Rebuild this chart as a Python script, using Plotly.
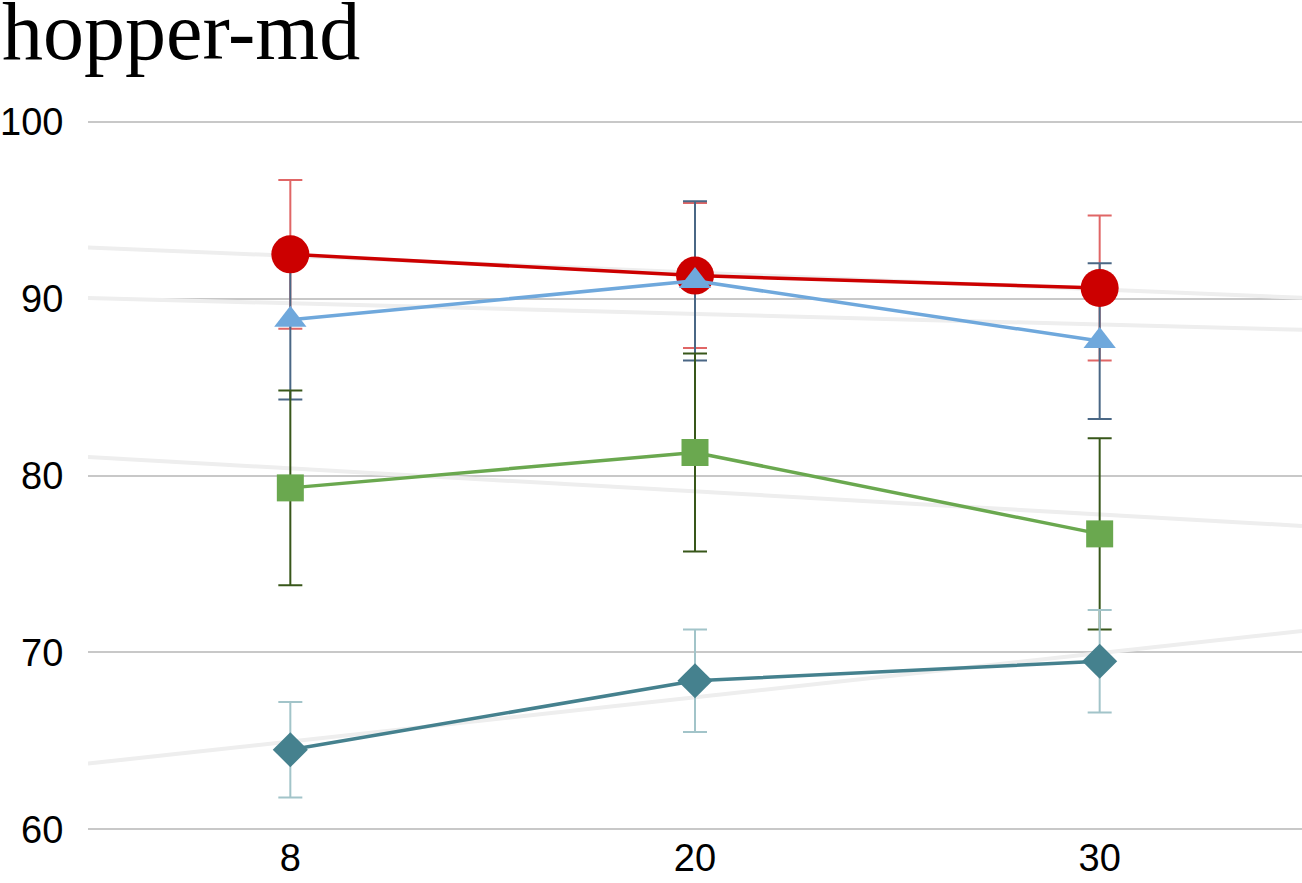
import numpy as np
import plotly.graph_objects as go

categories = ["8", "20", "30"]
series_names = ["red", "blue", "green", "teal"]
red_vals = [92.5, 91.3, 90.6]
red_err = [4.2, 4.1, 4.1]
blue_vals = [88.8, 91.0, 87.6]
blue_err = [4.5, 4.5, 4.4]
green_vals = [79.3, 81.3, 76.7]
green_err = [5.5, 5.6, 5.4]
teal_vals = [64.5, 68.4, 69.5]
teal_err = [2.7, 2.9, 2.9]
y_ticks = [60, 70, 80, 90, 100]

x_idx = list(range(len(categories)))

series = [
    (red_vals, red_err, "#cc0000", "#cc0000", "#e06666", "circle", 38),
    (blue_vals, blue_err, "#6fa8dc", "#6fa8dc", "#4a6785", "triangle-up", 28),
    (green_vals, green_err, "#6aa84f", "#6aa84f", "#38571a", "square", 27),
    (teal_vals, teal_err, "#45818e", "#45818e", "#a2c4c9", "diamond", 27),
]

W, H = 1302, 883
PAD = 0.15                      # small range padding so edge gridlines show
PXU = (829 - 122) / 40.0        # pixels per y unit
ML, MR = 88, 0
MT = 122 - PAD * PXU
MB = 54 - PAD * PXU
PW, PH = W - ML - MR, H - MT - MB

fig = go.Figure()

# trend lines (linear fit over category index), drawn first
xr = np.array([-0.5, 2.5])
for vals, *_ in series:
    k, b = np.polyfit(x_idx, vals, 1)
    fig.add_trace(go.Scatter(x=xr, y=k * xr + b, mode="lines",
                             line=dict(color="#eeeeee", width=4),
                             hoverinfo="skip", showlegend=False))

# error bars underneath all markers
for (vals, err, lc, mc, ec, sym, sz), name in zip(series, series_names):
    fig.add_trace(go.Scatter(
        x=x_idx, y=vals, mode="markers", name=name + " err",
        marker=dict(size=1, opacity=0),
        error_y=dict(type="data", array=err, visible=True, color=ec,
                     thickness=2, width=12),
        hoverinfo="skip", showlegend=False,
    ))

for (vals, err, lc, mc, ec, sym, sz), name in zip(series, series_names):
    fig.add_trace(go.Scatter(
        x=x_idx, y=vals, mode="lines+markers", name=name,
        line=dict(color=lc, width=3.5),
        marker=dict(symbol=sym, size=sz, color=mc, line=dict(width=0)),
        showlegend=False,
    ))

fig.add_annotation(text="hopper-md", xref="paper", yref="paper",
                   x=(0 - ML) / PW, y=1 + (MT + 16) / PH,
                   xanchor="left", yanchor="top", showarrow=False,
                   font=dict(family="Liberation Serif", size=82, color="black"))

fig.update_layout(
    width=W, height=H,
    margin=dict(l=ML, r=MR, t=MT, b=MB, pad=0),
    paper_bgcolor="white", plot_bgcolor="white",
    font=dict(family="Liberation Sans", size=38, color="black"),
)
fig.update_xaxes(range=[-0.5, 2.5], tickvals=x_idx, ticktext=categories,
                 showgrid=False, zeroline=False, showline=False, automargin=False,
                 ticks="",
                 tickfont=dict(family="Liberation Sans", size=38, color="black"))
fig.update_yaxes(range=[60 - PAD, 100 + PAD], tickvals=y_ticks, showgrid=True,
                 gridcolor="#c8c8c8", gridwidth=2, zeroline=False, showline=False,
                 automargin=False,
                 ticks="outside", ticklen=16, tickcolor="rgba(0,0,0,0)",
                 tickfont=dict(family="Liberation Sans", size=38, color="black"))

fig.write_html("out.html", config={"displayModeBar": False},
               post_script="document.body.style.margin='0';document.body.style.padding='0';")
